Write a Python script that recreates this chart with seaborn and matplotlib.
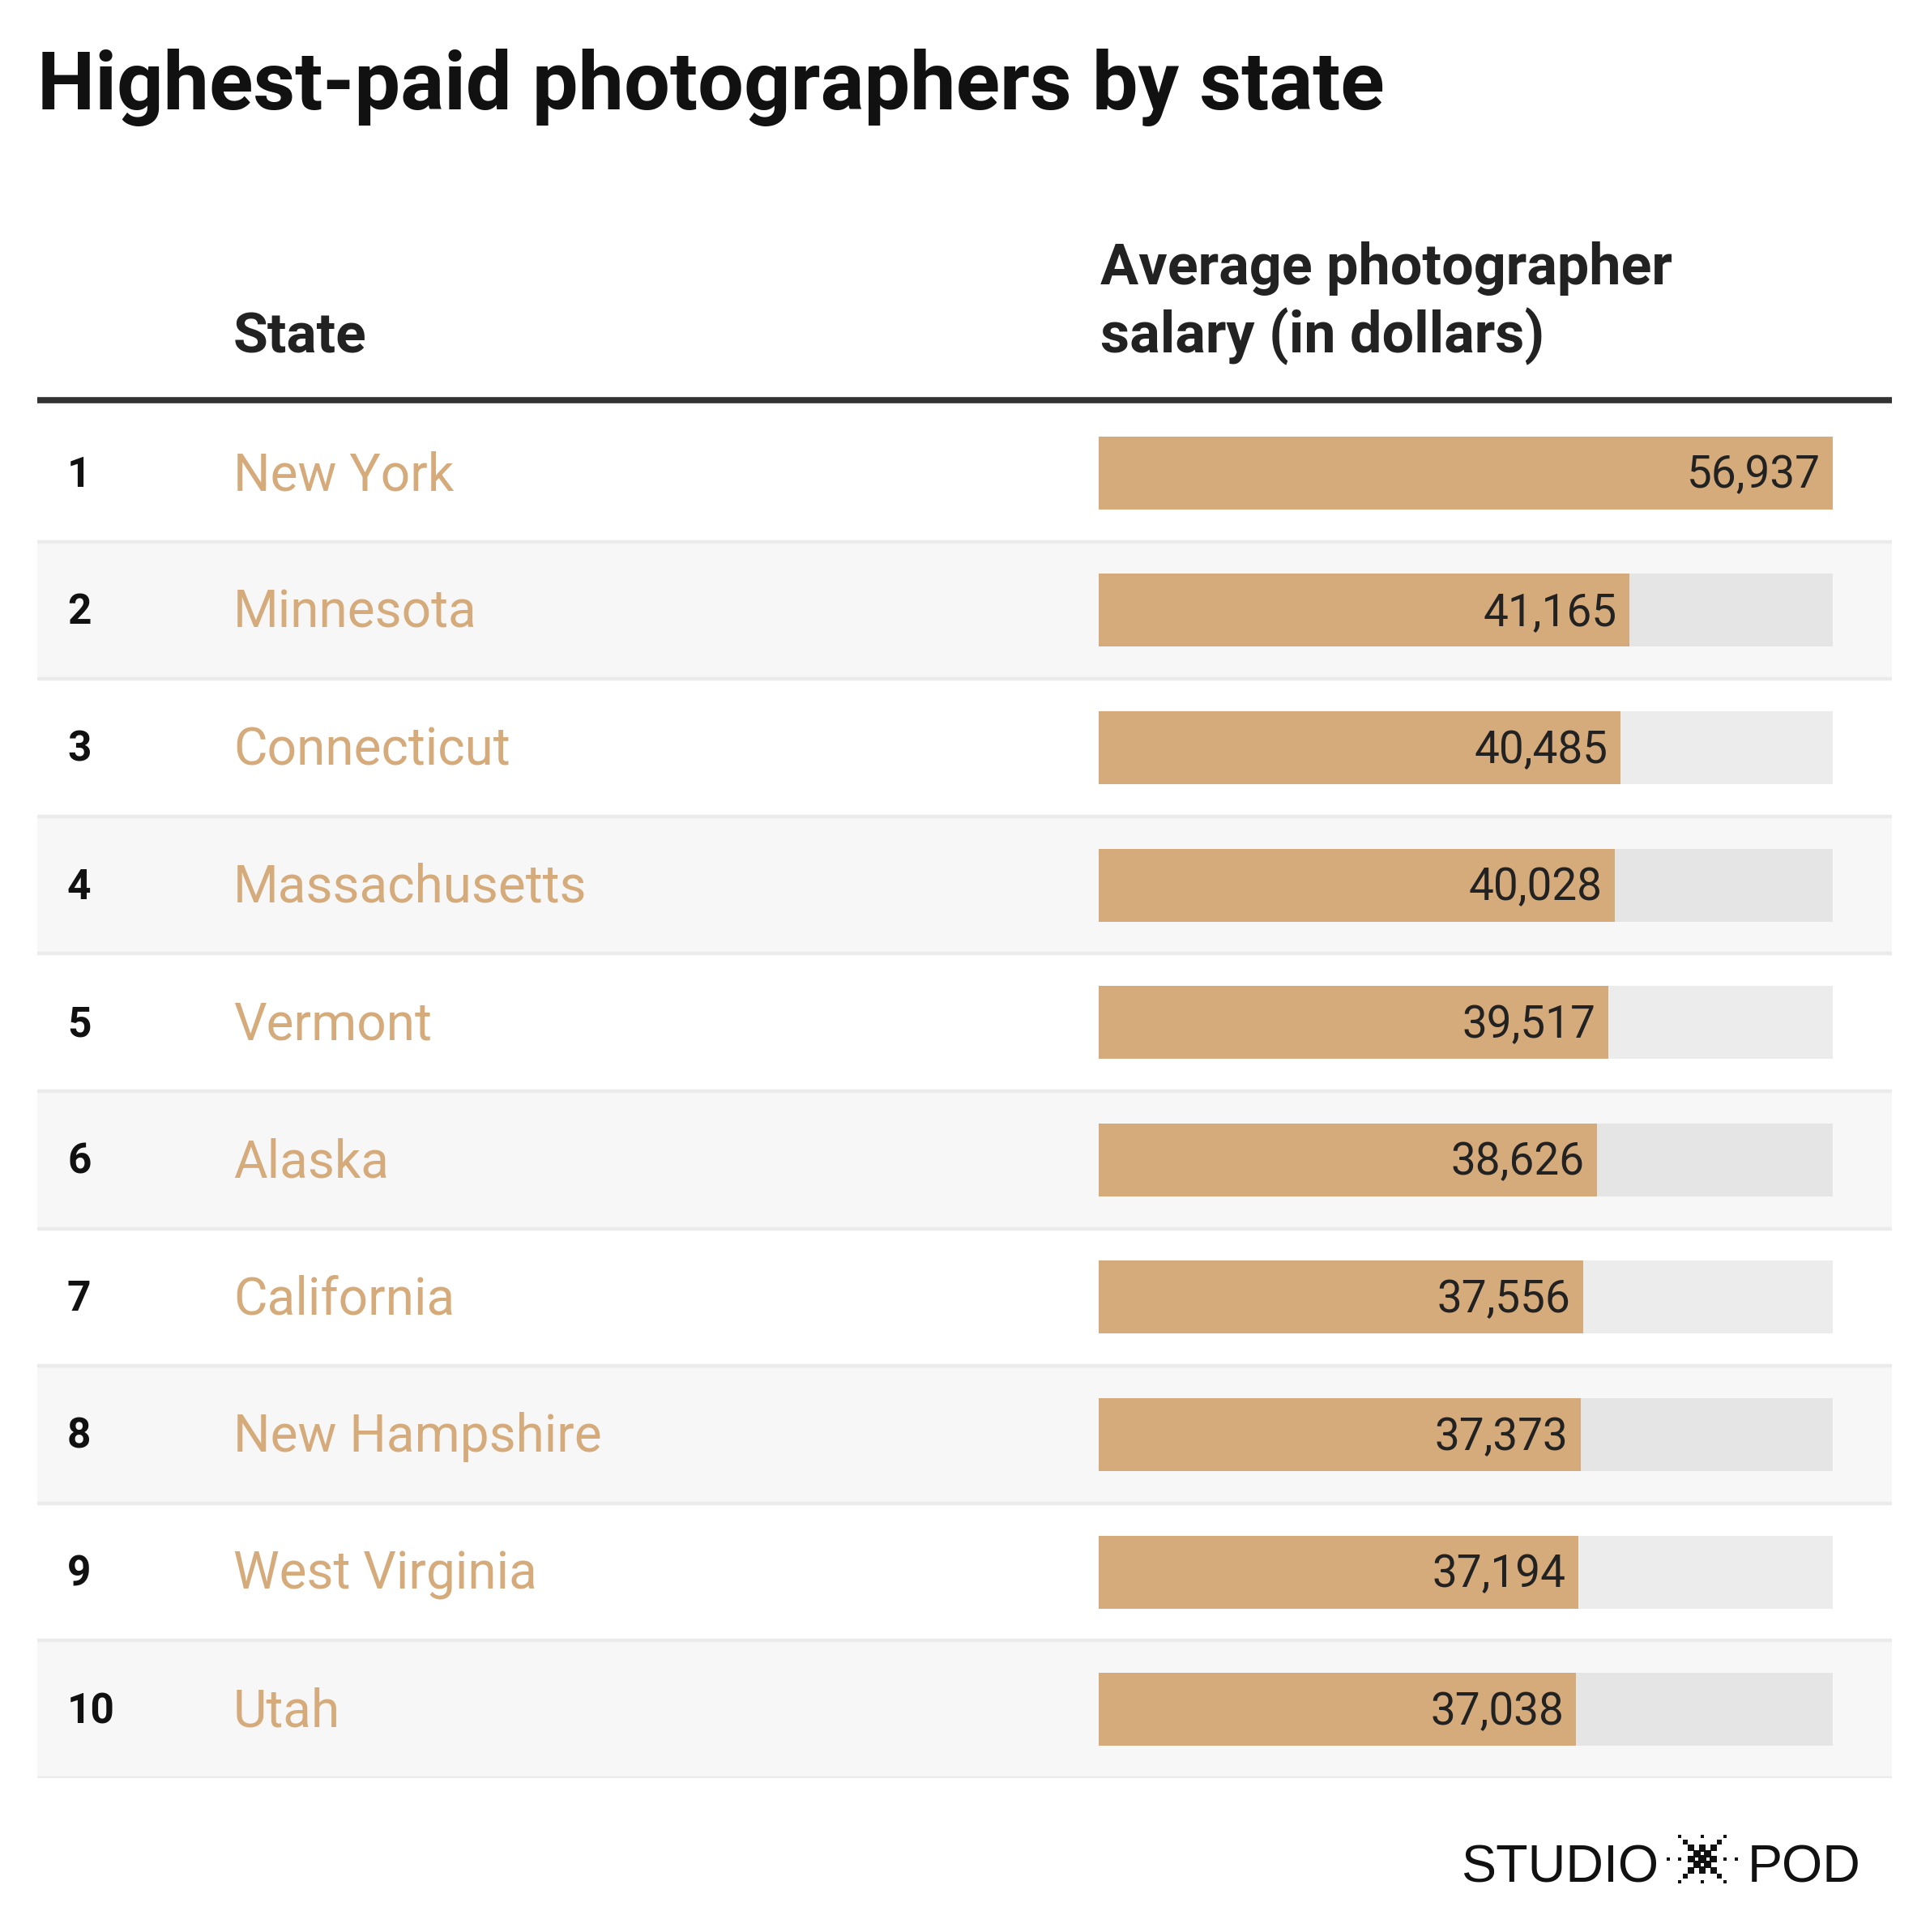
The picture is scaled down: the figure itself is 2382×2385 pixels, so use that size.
import pandas as pd
import numpy as np
import matplotlib.pyplot as plt
import seaborn as sns
from matplotlib.patches import Rectangle

ranks = ["1", "2", "3", "4", "5", "6", "7", "8", "9", "10"]
states = ["New York", "Minnesota", "Connecticut", "Massachusetts", "Vermont",
          "Alaska", "California", "New Hampshire", "West Virginia", "Utah"]
salaries = [56937, 41165, 40485, 40028, 39517, 38626, 37556, 37373, 37194, 37038]

df = pd.DataFrame({"rank": ranks, "state": states, "salary": salaries})
df["full"] = df.salary.max()

sns.set_theme(style="white")
plt.rcParams['font.family'] = ['Roboto', 'DejaVu Sans']

tan = "#d5ab7b"
W, H = 2382, 2385
fig = plt.figure(figsize=(W / 100, H / 100), dpi=100, facecolor="white")

def fx(px):
    return px / W

def fy(px):
    return 1 - px / H

# table area (pixels of the picture)
left, right = 46, 2335
top, bottom = 499, 2195
bar_l, bar_r = 1356, 2262

# row backgrounds, separators, rank + state columns
ax_bg = fig.add_axes([fx(left), fy(bottom), fx(right) - fx(left), (bottom - top) / H])
ax_bg.set_xlim(0, 1)
ax_bg.set_ylim(len(states) - 0.5, -0.5)
ax_bg.axis("off")
for i in range(len(states)):
    if i % 2 == 1:
        ax_bg.axhspan(i - 0.5, i + 0.5, color="#f7f7f7", lw=0, zorder=0)
    ax_bg.axhline(i + 0.5, color="#ebebeb", lw=3.2, zorder=1)
ax_bg.axhline(-0.527, color="#333333", lw=5.5, clip_on=False, zorder=2,
              solid_capstyle="butt")

x_rank = (83 - left) / (right - left)
x_state = (288 - left) / (right - left)
for i, row in df.iterrows():
    ax_bg.text(x_rank, i + 0.10, row["rank"], fontsize=37, fontweight="bold",
               color="#111111", va="baseline", ha="left")
    ax_bg.text(x_state, i + 0.125, row["state"], fontsize=46, color=tan,
               va="baseline", ha="left")

# bars
ax = fig.add_axes([fx(bar_l), fy(bottom), fx(bar_r) - fx(bar_l), (bottom - top) / H])
ax.patch.set_alpha(0)
sns.barplot(data=df, x="full", y="state", color="#6f6f6f", alpha=0.125,
            width=0.53, saturation=1, linewidth=0, errorbar=None, ax=ax)
sns.barplot(data=df, x="salary", y="state", color=tan,
            width=0.53, saturation=1, linewidth=0, errorbar=None, ax=ax)
ax.set_xlim(0, df.salary.max())
ax.set_ylim(len(states) - 0.5, -0.5)
ax.axis("off")
for i, v in enumerate(df.salary):
    ax.annotate(f"{v:,}", xy=(v, i + 0.11), xytext=(-11, 0), textcoords="offset points",
                ha="right", va="baseline", fontsize=39.5, color="#222222")

# title and headers
fig.text(fx(46), fy(135), "Highest-paid photographers by state", fontsize=72.5,
         fontweight="bold", color="#111111", va="baseline")
fig.text(fx(288), fy(435), "State", fontsize=50, fontweight="bold",
         color="#222222", va="baseline")
fig.text(fx(1358), fy(351), "Average photographer", fontsize=50.5, fontweight="bold",
         color="#222222", va="baseline")
fig.text(fx(1358), fy(435), "salary (in dollars)", fontsize=50.5, fontweight="bold",
         color="#222222", va="baseline")

# logo
fig.text(fx(1803), fy(2323), "STUDIO", fontsize=46.5, family=["Liberation Sans"],
         color="#111111", va="baseline")
fig.text(fx(2157), fy(2323), "POD", fontsize=46.5, family=["Liberation Sans"],
         color="#111111", va="baseline")
ax_logo = fig.add_axes([fx(2101 - 60), fy(2295 + 60), 120 / W, 120 / H])
ax_logo.set_xlim(-8.57, 8.57)
ax_logo.set_ylim(-8.57, 8.57)
ax_logo.axis("off")
dots = [(-4, 4), (0, 4), (4, 4), (-4, -4), (0, -4), (4, -4),
        (-6, 0), (-4, 0), (4, 0), (6, 0)]
mids = [(-3, 3), (3, 3), (-3, -3), (3, -3)]
tiles = [(i, j) for i in range(-2, 3) for j in range(-2, 3)
         if (i + j) % 2 == 0 or (abs(i) <= 1 and abs(j) <= 1)]
holes = [(0, 1), (0, -1), (1, 0), (-1, 0)]
for pts, s, c in ((dots, 0.55, "#111111"), (mids, 0.75, "#111111"),
                  (tiles, 1.02, "#111111"), (holes, 0.5, "white")):
    for (cx, cy) in pts:
        ax_logo.add_patch(Rectangle((cx - s / 2, cy - s / 2), s, s, color=c, lw=0))

fig.savefig("out.png", dpi=100, facecolor="white")
